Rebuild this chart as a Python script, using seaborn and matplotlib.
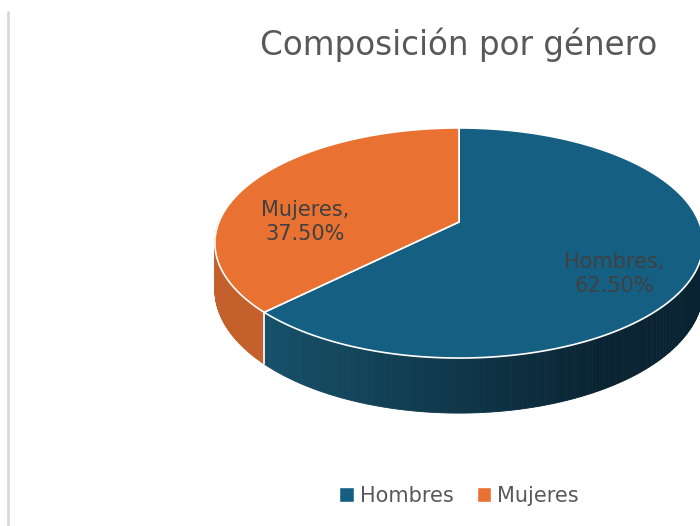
import matplotlib
matplotlib.use("Agg")
import matplotlib.pyplot as plt
import numpy as np
import pandas as pd
import seaborn as sns
from matplotlib.colors import to_rgb
from matplotlib.lines import Line2D
from matplotlib.patches import Patch

generos = ["Hombres", "Mujeres"]
porcentajes = [62.5, 37.5]
colores = ["#156082", "#E97132"]
colores_lado = [("#155069", "#0a2332"), ("#c4602b", "#c25d2a")]
titulo = "Composición por género"

# layout of the tilted pie, in pixel-like data coordinates
CX, CY = 459, 222
RX, RY = 240, 111.2
K = 0.1826          # perspective strength
DEPTH = 45
label_pos = {"Hombres": (614, 274), "Mujeres": (305, 222)}

sns.set_theme(style="white")
plt.rcParams["font.family"] = ["DejaVu Sans"]

df = pd.DataFrame({"genero": generos, "pct": porcentajes})
palette = sns.color_palette(colores)


def project(theta, r=1.0, drop=0.0):
    u, v = r * np.cos(theta), r * np.sin(theta)
    w = 1 + K * v
    return CX + RX * u / w, CY - RY * v / w + drop / w


def lerp(c1, c2, t):
    a, b = np.array(to_rgb(c1)), np.array(to_rgb(c2))
    return tuple(a + (b - a) * t)


fig = plt.figure(figsize=(7, 5.26), dpi=100)
ax = fig.add_axes([0, 0, 1, 1])
ax.set_xlim(0, 700)
ax.set_ylim(526, 0)
ax.axis("off")

# slices start at 12 o'clock and go clockwise
starts = 90 - np.concatenate([[0], np.cumsum(df["pct"])[:-1]]) * 3.6
ends = starts - df["pct"].to_numpy() * 3.6

# sides (front half only)
seams = []
for i, row in df.iterrows():
    th = np.radians(np.linspace(starts[i], ends[i], 400))
    front = th[np.sin(th) < 0.02]
    if len(front) < 2:
        continue
    c1, c2 = colores_lado[i]
    for a, b in zip(front[:-1], front[1:]):
        xa, ya = project(a)
        xb, yb = project(b)
        xa2, ya2 = project(a, drop=DEPTH)
        xb2, yb2 = project(b, drop=DEPTH)
        t = np.clip(((xa + xb) / 2 - 265) / 335, 0, 1)
        col = lerp(c1, c2, t)
        ax.fill([xa, xb, xb2, xa2], [ya, yb, yb2, ya2], color=col, lw=0.6, ec=col, zorder=1)
    seams.append(np.radians(ends[i]))

for s in seams:
    if np.sin(s) < 0:
        x0, y0 = project(s)
        x1, y1 = project(s, drop=DEPTH)
        ax.plot([x0, x1], [y0, y1], color="white", lw=1.2, zorder=2)

# top faces
for i, row in df.iterrows():
    th = np.radians(np.linspace(starts[i], ends[i], 400))
    xs, ys = project(th)
    ax.fill(np.r_[CX, xs], np.r_[CY, ys], color=palette[i], ec="white", lw=1.2, zorder=3)
    lx, ly = label_pos[row["genero"]]
    ax.text(lx, ly, f"{row['genero']},\n{row['pct']:.2f}%", ha="center", va="center",
            fontsize=15, color="#404040", linespacing=1.3, zorder=4)

ax.text(459, 45, titulo, ha="center", va="center", fontsize=23.5, color="#595959")

handles = [Patch(facecolor=palette[i], label=g) for i, g in enumerate(generos)]
ax.legend(handles=handles, loc="center", bbox_to_anchor=(459 / 700, 1 - 496 / 526), ncol=2,
          frameon=False, fontsize=15, handlelength=0.7, handleheight=0.7,
          handletextpad=0.3, columnspacing=1.1, labelcolor="#595959")

fig.add_artist(Line2D([8 / 700, 8 / 700], [0, 1 - 12 / 526], color="#d9d9d9", lw=2))

fig.savefig("out.png", dpi=100)
